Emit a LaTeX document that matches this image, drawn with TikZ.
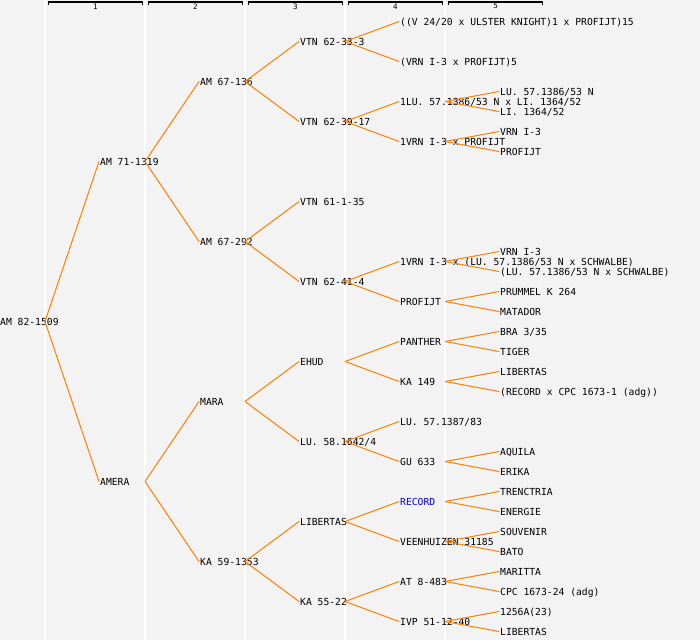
\documentclass[tikz,border=0pt]{standalone}
\usepackage{fontspec}
\setmonofont{DejaVu Sans Mono}
\definecolor{bggray}{RGB}{243,243,243}
\definecolor{conncol}{RGB}{255,128,0}
\definecolor{reclink}{RGB}{0,0,255}
\begin{document}
\begin{tikzpicture}[x=1pt,y=-1pt,
  lbl/.style={anchor=base west, inner xsep=1pt, inner ysep=0pt, text height=8pt, text depth=0pt,
    font=\ttfamily\fontsize{9.7}{10}\selectfont, text=black},
  colnum/.style={inner sep=0pt, font=\ttfamily\fontsize{7.5}{8}\selectfont},
  conn/.style={draw=conncol, line width=1pt},
  sep/.style={draw=white, line width=1.2pt},
  bracket/.style={draw=black, line width=1.2pt}]
\useasboundingbox (0,0) rectangle (700,640);
\fill[bggray] (0,0) rectangle (700,640);
% column separators
\foreach \c in {45,145,245,345,445} \draw[sep] (\c,0) -- (\c,640);
\coordinate (k0) at (45,0);
\coordinate (k1) at (145,0);
\coordinate (k2) at (245,0);
\coordinate (k3) at (345,0);
\coordinate (k4) at (445,0);
% column headers
\foreach \i/\l/\r in {1/48.5/142.5,2/148.5/242.5,3/248.5/342.5,4/348.5/442.5,5/448.5/542.5}{
  \draw[bracket] (\l,5) -- (\l,2) -- (\r,2) -- (\r,5);
  \node[colnum] (h\i) at ({(\l+\r)/2},6.3) {\i};
}
% generation 0
\node[lbl] (n) at (-1,325.5) {AM 82-1509};
% generation 1
\node[lbl] (a) at (99,165.5) {AM 71-1319};
\node[lbl] (b) at (99,485.5) {AMERA};
% generation 2
\node[lbl] (aa) at (199,85.5) {AM 67-136};
\node[lbl] (ab) at (199,245.5) {AM 67-292};
\node[lbl] (ba) at (199,405.5) {MARA};
\node[lbl] (bb) at (199,565.5) {KA 59-1353};
% generation 3
\node[lbl] (aaa) at (299,45.5) {VTN 62-33-3};
\node[lbl] (aab) at (299,125.5) {VTN 62-39-17};
\node[lbl] (aba) at (299,205.5) {VTN 61-1-35};
\node[lbl] (abb) at (299,285.5) {VTN 62-41-4};
\node[lbl] (baa) at (299,365.5) {EHUD};
\node[lbl] (bab) at (299,445.5) {LU. 58.1642/4};
\node[lbl] (bba) at (299,525.5) {LIBERTAS};
\node[lbl] (bbb) at (299,605.5) {KA 55-22};
% generation 4
\node[lbl] (aaaa) at (399,25.5) {((V 24/20 x ULSTER KNIGHT)1 x PROFIJT)15};
\node[lbl] (aaab) at (399,65.5) {(VRN I-3 x PROFIJT)5};
\node[lbl] (aaba) at (399,105.5) {1LU. 57.1386/53 N x LI. 1364/52};
\node[lbl] (aabb) at (399,145.5) {1VRN I-3 x PROFIJT};
\node[lbl] (abba) at (399,265.5) {1VRN I-3 x (LU. 57.1386/53 N x SCHWALBE)};
\node[lbl] (abbb) at (399,305.5) {PROFIJT};
\node[lbl] (baaa) at (399,345.5) {PANTHER};
\node[lbl] (baab) at (399,385.5) {KA 149};
\node[lbl] (baba) at (399,425.5) {LU. 57.1387/83};
\node[lbl] (babb) at (399,465.5) {GU 633};
\node[lbl, text=reclink] (bbaa) at (399,505.5) {RECORD};
\node[lbl] (bbab) at (399,545.5) {VEENHUIZEN 31185};
\node[lbl] (bbba) at (399,585.5) {AT 8-483};
\node[lbl] (bbbb) at (399,625.5) {IVP 51-12-40};
% generation 5
\node[lbl] (aabaa) at (499,95.5) {LU. 57.1386/53 N};
\node[lbl] (aabab) at (499,115.5) {LI. 1364/52};
\node[lbl] (aabba) at (499,135.5) {VRN I-3};
\node[lbl] (aabbb) at (499,155.5) {PROFIJT};
\node[lbl] (abbaa) at (499,255.5) {VRN I-3};
\node[lbl] (abbab) at (499,275.5) {(LU. 57.1386/53 N x SCHWALBE)};
\node[lbl] (abbba) at (499,295.5) {PRUMMEL K 264};
\node[lbl] (abbbb) at (499,315.5) {MATADOR};
\node[lbl] (baaaa) at (499,335.5) {BRA 3/35};
\node[lbl] (baaab) at (499,355.5) {TIGER};
\node[lbl] (baaba) at (499,375.5) {LIBERTAS};
\node[lbl] (baabb) at (499,395.5) {(RECORD x CPC 1673-1 (adg))};
\node[lbl] (babba) at (499,455.5) {AQUILA};
\node[lbl] (babbb) at (499,475.5) {ERIKA};
\node[lbl] (bbaaa) at (499,495.5) {TRENCTRIA};
\node[lbl] (bbaab) at (499,515.5) {ENERGIE};
\node[lbl] (bbaba) at (499,535.5) {SOUVENIR};
\node[lbl] (bbabb) at (499,555.5) {BATO};
\node[lbl] (bbbaa) at (499,575.5) {MARITTA};
\node[lbl] (bbbab) at (499,595.5) {CPC 1673-24 (adg)};
\node[lbl] (bbbba) at (499,615.5) {1256A(23)};
\node[lbl] (bbbbb) at (499,635.5) {LIBERTAS};
% connectors
\foreach \p/\k/\c in {
  n/k0/a, n/k0/b,
  a/k1/aa, a/k1/ab, b/k1/ba, b/k1/bb,
  aa/k2/aaa, aa/k2/aab, ab/k2/aba, ab/k2/abb, ba/k2/baa, ba/k2/bab, bb/k2/bba, bb/k2/bbb,
  aaa/k3/aaaa, aaa/k3/aaab, aab/k3/aaba, aab/k3/aabb, abb/k3/abba, abb/k3/abbb,
  baa/k3/baaa, baa/k3/baab, bab/k3/baba, bab/k3/babb, bba/k3/bbaa, bba/k3/bbab, bbb/k3/bbba, bbb/k3/bbbb,
  aaba/k4/aabaa, aaba/k4/aabab, aabb/k4/aabba, aabb/k4/aabbb,
  abba/k4/abbaa, abba/k4/abbab, abbb/k4/abbba, abbb/k4/abbbb,
  baaa/k4/baaaa, baaa/k4/baaab, baab/k4/baaba, baab/k4/baabb,
  babb/k4/babba, babb/k4/babbb,
  bbaa/k4/bbaaa, bbaa/k4/bbaab, bbab/k4/bbaba, bbab/k4/bbabb,
  bbba/k4/bbbaa, bbba/k4/bbbab, bbbb/k4/bbbba, bbbb/k4/bbbbb}
  \draw[conn] (\k |- \p.west) -- (\c.west);
\end{tikzpicture}
\end{document}
